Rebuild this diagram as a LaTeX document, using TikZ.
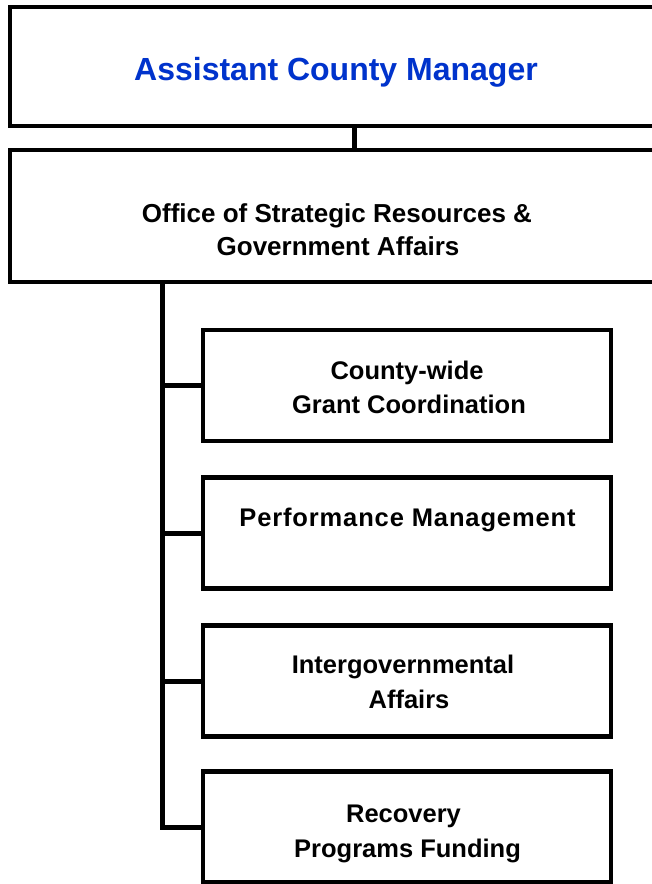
\documentclass[tikz,border=0pt]{standalone}
\usepackage{fontspec}
\setmainfont{Liberation Sans}
\definecolor{mgrblue}{RGB}{0,51,204}
\begin{document}
\begin{tikzpicture}[x=1pt,y=-1pt,
  box/.style={draw=black, line width=4.5pt, rectangle, inner sep=0pt, line join=miter},
  conn/.style={draw=black, line width=5pt, line join=miter},
  lbl/.style={anchor=base, inner sep=0pt, font=\bfseries\fontsize{25.5}{30}\selectfont},
  toplbl/.style={anchor=base, inner sep=0pt, text=mgrblue, font=\bfseries\fontsize{32}{38}\selectfont},
  officelbl/.style={anchor=base, inner sep=0pt, font=\bfseries\fontsize{26}{32}\selectfont}]
\useasboundingbox (0,0) rectangle (652,884);
\clip (0,0) rectangle (652,884);
\fill[white] (0,0) rectangle (652,884);
% boxes
\node[box, minimum width=654pt, minimum height=119pt] (mgr) at (337,66.5) {};
\node[box, minimum width=654pt, minimum height=132pt] (office) at (337,216) {};
\node[box, minimum width=408pt, minimum height=111pt] (grant) at (407,385.5) {};
\node[box, minimum width=408pt, minimum height=111pt] (perf) at (407,533) {};
\node[box, minimum width=408pt, minimum height=111pt] (inter) at (407,681) {};
\node[box, minimum width=408pt, minimum height=111pt] (recov) at (407,827) {};
% connector columns
\coordinate (tapx) at (354,0);
\coordinate (stemx) at (162,0);
\draw[conn] (mgr.south -| tapx) -- (office.north -| tapx);
\draw[conn] (office.south -| stemx) |- (recov.west);
\draw[conn] (stemx |- grant.west) -- (grant.west);
\draw[conn] (stemx |- perf.west) -- (perf.west);
\draw[conn] (stemx |- inter.west) -- (inter.west);
% texts
\node[toplbl] (t1) at (336,80) {Assistant County Manager};
\node[officelbl] (t2a) at (337,222) {Office of Strategic Resources \&};
\node[officelbl] (t2b) at (338,255) {Government Affairs};
\node[lbl] (t3a) at (407,379) {County-wide};
\node[lbl] (t3b) at (409,413) {Grant Coordination};
\node[lbl] (t4) at (407.5,526) {\addfontfeature{LetterSpace=3.4}Performance Management};
\node[lbl] (t5a) at (403,673) {Intergovernmental};
\node[lbl] (t5b) at (409,708) {Affairs};
\node[lbl] (t6a) at (403.5,822) {Recovery};
\node[lbl] (t6b) at (407.5,857) {Programs Funding};
\end{tikzpicture}
\end{document}
